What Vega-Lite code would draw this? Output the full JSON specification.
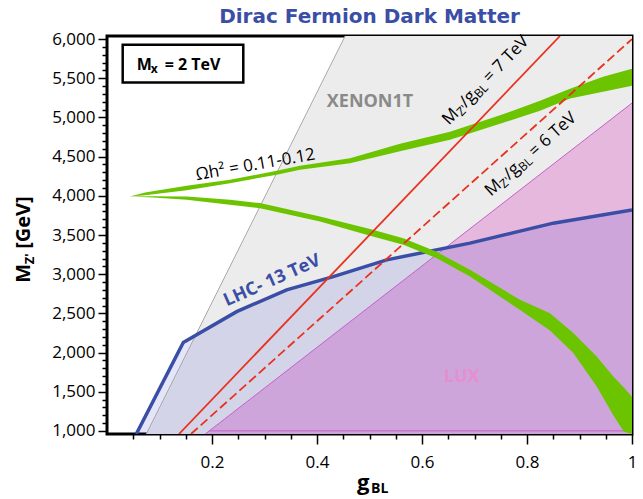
{
  "$schema": "https://vega.github.io/schema/vega-lite/v6.json",
  "width": 525,
  "height": 398,
  "autosize": {"type": "none"},
  "padding": {"left": 107, "top": 36, "right": 11, "bottom": 65},
  "background": "white",
  "title": {"text": "Dirac Fermion Dark Matter", "color": "#3b4ea6", "font": "DejaVu Sans", "fontSize": 20, "fontWeight": "bold", "offset": 3},
  "config": {
    "view": {"stroke": "black", "strokeWidth": 3},
    "font": "Open Sans",
    "axis": {"labelFont": "Open Sans", "labelColor": "black", "tickColor": "black", "tickWidth": 1.5, "grid": false, "domain": false, "title": null}
  },
  "datasets": {
    "xenon": [{"g": 0.0748, "M": 960}, {"g": 0.4536, "M": 6040}, {"g": 1, "M": 6040}],
    "lux": [{"g": 0.1872, "M": 960}, {"g": 1, "M": 5184}],
    "lhc": [
      {"g": 0.0558, "M": 960}, {"g": 0.1453, "M": 2127}, {"g": 0.247, "M": 2522},
      {"g": 0.3423, "M": 2800}, {"g": 0.431, "M": 2969}, {"g": 0.5328, "M": 3183},
      {"g": 0.6914, "M": 3396}, {"g": 0.85, "M": 3651}, {"g": 1.0, "M": 3820}
    ],
    "grid": [{"M": 1000}, {"M": 1500}, {"M": 2000}, {"M": 2500}, {"M": 3000}, {"M": 3500}, {"M": 4000}, {"M": 4500}, {"M": 5000}, {"M": 5500}, {"M": 6000}],
    "xenonEdge": [{"g": 0.0748, "M": 960, "g2": 0.4536, "M2": 6040}],
    "luxEdge": [{"g": 0.1872, "M": 960, "g2": 1, "M2": 5184}, {"g": 0.1949, "M": 1000, "g2": 1, "M2": 1000}],
    "ratio7": [{"g": 0.13714, "M": 960, "g2": 0.86286, "M2": 6040}],
    "ratio6": [{"g": 0.16, "M": 960, "g2": 1.0, "M2": 6000}],
    "relic": [
      {"branch": "upper", "g": 0.0438, "M": 3991, "M2": 3991},
      {"branch": "upper", "g": 0.0724, "M": 4042, "M2": 4006},
      {"branch": "upper", "g": 0.1518, "M": 4128, "M2": 4070},
      {"branch": "upper", "g": 0.2343, "M": 4204, "M2": 4162},
      {"branch": "upper", "g": 0.3232, "M": 4319, "M2": 4268},
      {"branch": "upper", "g": 0.3676, "M": 4383, "M2": 4332},
      {"branch": "upper", "g": 0.4629, "M": 4481, "M2": 4417},
      {"branch": "upper", "g": 0.5581, "M": 4664, "M2": 4568},
      {"branch": "upper", "g": 0.6533, "M": 4817, "M2": 4715},
      {"branch": "upper", "g": 0.7486, "M": 5028, "M2": 4919},
      {"branch": "upper", "g": 0.8248, "M": 5213, "M2": 5085},
      {"branch": "upper", "g": 0.8819, "M": 5366, "M2": 5243},
      {"branch": "upper", "g": 0.9448, "M": 5520, "M2": 5328},
      {"branch": "upper", "g": 1.0, "M": 5622, "M2": 5404},
      {"branch": "lower", "g": 0.0438, "M": 3991, "M2": 3991},
      {"branch": "lower", "g": 0.0876, "M": 3994, "M2": 3978},
      {"branch": "lower", "g": 0.1518, "M": 3991, "M2": 3949},
      {"branch": "lower", "g": 0.2343, "M": 3949, "M2": 3885},
      {"branch": "lower", "g": 0.2914, "M": 3907, "M2": 3843},
      {"branch": "lower", "g": 0.4057, "M": 3736, "M2": 3672},
      {"branch": "lower", "g": 0.501, "M": 3575, "M2": 3489},
      {"branch": "lower", "g": 0.5644, "M": 3460, "M2": 3374},
      {"branch": "lower", "g": 0.628, "M": 3285, "M2": 3204},
      {"branch": "lower", "g": 0.6914, "M": 3055, "M2": 2970},
      {"branch": "lower", "g": 0.7867, "M": 2672, "M2": 2544},
      {"branch": "lower", "g": 0.8438, "M": 2502, "M2": 2280},
      {"branch": "lower", "g": 0.8882, "M": 2250, "M2": 1995},
      {"branch": "lower", "g": 0.9328, "M": 1948, "M2": 1565},
      {"branch": "lower", "g": 0.9644, "M": 1693, "M2": 1198},
      {"branch": "lower", "g": 0.9845, "M": 1555, "M2": 990},
      {"branch": "lower", "g": 1.0, "M": 1437, "M2": 960}
    ]
  },
  "encoding": {
    "x": {
      "field": "g", "type": "quantitative",
      "scale": {"domain": [0, 1], "nice": false, "zero": false},
      "axis": {
        "orient": "bottom",
        "values": [0.05, 0.1, 0.15, 0.2, 0.25, 0.3, 0.35, 0.4, 0.45, 0.5, 0.55, 0.6, 0.65, 0.7, 0.75, 0.8, 0.85, 0.9, 0.95, 1],
        "labelExpr": "abs(datum.value * 5 - round(datum.value * 5)) < 0.001 ? format(datum.value, '~g') : ''",
        "tickSize": {"condition": {"test": "abs(datum.value * 5 - round(datum.value * 5)) < 0.001", "value": 10}, "value": 5},
        "labelFontSize": 17, "labelPadding": 10, "labelFlush": false, "labelOverlap": false
      }
    },
    "y": {"field": "M", "type": "quantitative", "scale": {"domain": [960, 6040], "nice": false, "zero": false}, "axis": null}
  },
  "resolve": {"axis": {"y": "independent"}},
  "layer": [
    {
      "data": {"name": "xenon"},
      "mark": {"type": "area", "color": "#ececec", "clip": true},
      "encoding": {
        "y": {
          "field": "M", "type": "quantitative",
          "scale": {"domain": [960, 6040], "nice": false, "zero": false},
          "axis": {
            "orient": "left",
            "values": [1000, 1100, 1200, 1300, 1400, 1500, 1600, 1700, 1800, 1900, 2000, 2100, 2200, 2300, 2400, 2500, 2600, 2700, 2800, 2900, 3000, 3100, 3200, 3300, 3400, 3500, 3600, 3700, 3800, 3900, 4000, 4100, 4200, 4300, 4400, 4500, 4600, 4700, 4800, 4900, 5000, 5100, 5200, 5300, 5400, 5500, 5600, 5700, 5800, 5900, 6000],
            "labelExpr": "datum.value % 500 === 0 ? format(datum.value, ',') : ''",
            "tickSize": {"condition": {"test": "datum.value % 500 === 0", "value": 9}, "value": 5},
            "labelFontSize": 17, "labelPadding": 3, "labelOverlap": false
          }
        },
        "y2": {"datum": 960}
      }
    },
    {
      "data": {"name": "lux"},
      "mark": {"type": "area", "color": "#e6b8dd", "clip": true},
      "encoding": {
        "y": {
          "field": "M", "type": "quantitative",
          "scale": {"domain": [960, 6040], "nice": false, "zero": false},
          "axis": {
            "orient": "right",
            "values": [1000, 1100, 1200, 1300, 1400, 1500, 1600, 1700, 1800, 1900, 2000, 2100, 2200, 2300, 2400, 2500, 2600, 2700, 2800, 2900, 3000, 3100, 3200, 3300, 3400, 3500, 3600, 3700, 3800, 3900, 4000, 4100, 4200, 4300, 4400, 4500, 4600, 4700, 4800, 4900, 5000, 5100, 5200, 5300, 5400, 5500, 5600, 5700, 5800, 5900, 6000],
            "labels": false,
            "tickSize": {"condition": {"test": "datum.value % 500 === 0", "value": -8}, "value": -5}
          }
        },
        "y2": {"datum": 960}
      }
    },
    {
      "data": {"name": "lhc"},
      "mark": {"type": "area", "color": "#1414c8", "opacity": 0.11, "clip": true},
      "encoding": {"y2": {"datum": 960}}
    },
    {
      "data": {"name": "grid"},
      "mark": {"type": "rule", "color": "#8e8e8e", "strokeWidth": 1},
      "encoding": {"x": {"datum": 0}, "x2": {"datum": 1}}
    },
    {
      "data": {"name": "xenonEdge"},
      "mark": {"type": "rule", "color": "#a8a8a8", "strokeWidth": 1, "clip": true},
      "encoding": {"x2": {"field": "g2"}, "y2": {"field": "M2"}}
    },
    {
      "data": {"name": "luxEdge"},
      "mark": {"type": "rule", "color": "#c55fc8", "strokeWidth": 1, "clip": true},
      "encoding": {"x2": {"field": "g2"}, "y2": {"field": "M2"}}
    },
    {
      "data": {"name": "lhc"},
      "mark": {"type": "line", "color": "#3a4ea6", "strokeWidth": 3.5, "clip": true},
      "encoding": {}
    },
    {
      "data": {"name": "relic"},
      "mark": {"type": "area", "color": "#6cc400", "clip": true},
      "encoding": {"y2": {"field": "M2"}, "detail": {"field": "branch"}}
    },
    {
      "data": {"name": "ratio7"},
      "mark": {"type": "rule", "color": "#e8321e", "strokeWidth": 1.8, "clip": true},
      "encoding": {"x2": {"field": "g2"}, "y2": {"field": "M2"}}
    },
    {
      "data": {"name": "ratio6"},
      "mark": {"type": "rule", "color": "#e8321e", "strokeWidth": 1.8, "strokeDash": [9, 4], "clip": true},
      "encoding": {"x2": {"field": "g2"}, "y2": {"field": "M2"}}
    },
    {
      "data": {"values": [{"g": 0.501, "M": 5200, "label": "XENON1T"}]},
      "mark": {"type": "text", "font": "Open Sans", "fontWeight": "bold", "fontSize": 18, "color": "#8a8a8a", "align": "center", "baseline": "middle"},
      "encoding": {"text": {"field": "label"}}
    },
    {
      "data": {"values": [{"g": 0.6756, "M": 1693, "label": "LUX"}]},
      "mark": {"type": "text", "font": "Open Sans", "fontWeight": "bold", "fontSize": 18, "color": "#e48fcf", "align": "center", "baseline": "middle"},
      "encoding": {"text": {"field": "label"}}
    },
    {
      "data": {"values": [{"g": 0.228, "M": 2586, "label": "LHC- 13 TeV"}]},
      "mark": {"type": "text", "font": "Open Sans", "fontWeight": "bold", "fontSize": 18, "color": "#3a4ea6", "align": "left", "baseline": "alphabetic", "angle": -24},
      "encoding": {"text": {"field": "label"}}
    },
    {
      "data": {"values": [{"g": 0.1709, "M": 4198, "label": "Ωh² = 0.11-0.12"}]},
      "mark": {"type": "text", "font": "Open Sans", "fontSize": 17, "color": "black", "align": "left", "baseline": "alphabetic", "angle": -10},
      "encoding": {"text": {"field": "label"}}
    },
    {
      "data": {"values": [{"g": 0.6514, "M": 4894, "p1": "M", "p2": "Z'", "p3": "/g", "p4": "BL", "p5": "= 7 TeV"}]},
      "layer": [
        {"mark": {"type": "text", "font": "Open Sans", "fontSize": 17, "color": "black", "align": "left", "baseline": "alphabetic", "angle": -46}, "encoding": {"text": {"field": "p1"}}},
        {"mark": {"type": "text", "font": "Open Sans", "fontSize": 12, "color": "black", "align": "left", "baseline": "alphabetic", "angle": -46, "dx": 15.3, "dy": 3}, "encoding": {"text": {"field": "p2"}}},
        {"mark": {"type": "text", "font": "Open Sans", "fontSize": 17, "color": "black", "align": "left", "baseline": "alphabetic", "angle": -46, "dx": 24.8}, "encoding": {"text": {"field": "p3"}}},
        {"mark": {"type": "text", "font": "Open Sans", "fontSize": 12, "color": "black", "align": "left", "baseline": "alphabetic", "angle": -46, "dx": 40.4, "dy": 3}, "encoding": {"text": {"field": "p4"}}},
        {"mark": {"type": "text", "font": "Open Sans", "fontSize": 17, "color": "black", "align": "left", "baseline": "alphabetic", "angle": -46, "dx": 58.8}, "encoding": {"text": {"field": "p5"}}}
      ]
    },
    {
      "data": {"values": [{"g": 0.7314, "M": 3987, "p1": "M", "p2": "Z'", "p3": "/g", "p4": "BL", "p5": "= 6 TeV"}]},
      "layer": [
        {"mark": {"type": "text", "font": "Open Sans", "fontSize": 17, "color": "black", "align": "left", "baseline": "alphabetic", "angle": -42}, "encoding": {"text": {"field": "p1"}}},
        {"mark": {"type": "text", "font": "Open Sans", "fontSize": 12, "color": "black", "align": "left", "baseline": "alphabetic", "angle": -42, "dx": 15.3, "dy": 3}, "encoding": {"text": {"field": "p2"}}},
        {"mark": {"type": "text", "font": "Open Sans", "fontSize": 17, "color": "black", "align": "left", "baseline": "alphabetic", "angle": -42, "dx": 24.8}, "encoding": {"text": {"field": "p3"}}},
        {"mark": {"type": "text", "font": "Open Sans", "fontSize": 12, "color": "black", "align": "left", "baseline": "alphabetic", "angle": -42, "dx": 40.4, "dy": 3}, "encoding": {"text": {"field": "p4"}}},
        {"mark": {"type": "text", "font": "Open Sans", "fontSize": 17, "color": "black", "align": "left", "baseline": "alphabetic", "angle": -42, "dx": 58.8}, "encoding": {"text": {"field": "p5"}}}
      ]
    },
    {
      "data": {"values": [{"g": 0.0299, "g2": 0.2596, "M": 5928, "M2": 5447}]},
      "mark": {"type": "rect", "fill": "white", "stroke": "black", "strokeWidth": 2.5},
      "encoding": {"x2": {"field": "g2"}, "y2": {"field": "M2"}}
    },
    {
      "data": {"values": [{"g": 0.0566, "M": 5600, "p1": "M", "p2": "x", "p3": "= 2 TeV"}]},
      "layer": [
        {"mark": {"type": "text", "font": "Open Sans", "fontWeight": "bold", "fontSize": 16, "color": "black", "align": "left", "baseline": "alphabetic"}, "encoding": {"text": {"field": "p1"}}},
        {"mark": {"type": "text", "font": "Open Sans", "fontWeight": "bold", "fontSize": 12, "color": "black", "align": "left", "baseline": "alphabetic", "dx": 14, "dy": 3}, "encoding": {"text": {"field": "p2"}}},
        {"mark": {"type": "text", "font": "Open Sans", "fontWeight": "bold", "fontSize": 16, "color": "black", "align": "left", "baseline": "alphabetic", "dx": 28}, "encoding": {"text": {"field": "p3"}}}
      ]
    },
    {
      "data": {"values": [{"g": 0.4762, "M": 246, "p1": "g", "p2": "BL"}]},
      "layer": [
        {"mark": {"type": "text", "font": "Open Sans", "fontWeight": "bold", "fontSize": 22, "color": "black", "align": "left", "baseline": "alphabetic"}, "encoding": {"text": {"field": "p1"}}},
        {"mark": {"type": "text", "font": "Open Sans", "fontWeight": "bold", "fontSize": 14, "color": "black", "align": "left", "baseline": "alphabetic", "dx": 14, "dy": 3}, "encoding": {"text": {"field": "p2"}}}
      ]
    },
    {
      "data": {"values": [{"g": -0.147, "M": 2889, "p1": "M", "p2": "Z'", "p3": "[GeV]"}]},
      "layer": [
        {"mark": {"type": "text", "font": "Open Sans", "fontWeight": "bold", "fontSize": 20, "color": "black", "align": "left", "baseline": "alphabetic", "angle": -90}, "encoding": {"text": {"field": "p1"}}},
        {"mark": {"type": "text", "font": "Open Sans", "fontWeight": "bold", "fontSize": 13, "color": "black", "align": "left", "baseline": "alphabetic", "angle": -90, "dx": 18.5, "dy": 4}, "encoding": {"text": {"field": "p2"}}},
        {"mark": {"type": "text", "font": "Open Sans", "fontWeight": "bold", "fontSize": 20, "color": "black", "align": "left", "baseline": "alphabetic", "angle": -90, "dx": 34}, "encoding": {"text": {"field": "p3"}}}
      ]
    }
  ]
}
